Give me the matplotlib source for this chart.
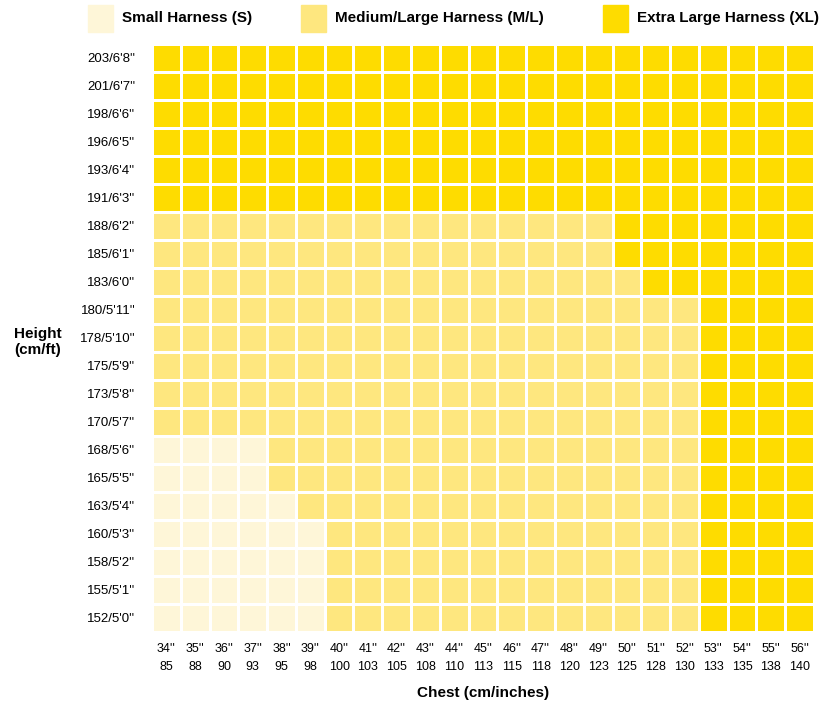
import numpy as np
import matplotlib
matplotlib.use("Agg")
import matplotlib.pyplot as plt
from matplotlib.colors import ListedColormap
from matplotlib.patches import Rectangle

plt.rcParams['font.family'] = ['Liberation Sans', 'DejaVu Sans']

chest_in = list(range(34, 57))
chest_cm = [85, 88, 90, 93, 95, 98, 100, 103, 105, 108, 110, 113, 115, 118,
            120, 123, 125, 128, 130, 133, 135, 138, 140]
height_cm = [152, 155, 158, 160, 163, 165, 168, 170, 173, 175, 178, 180, 183,
             185, 188, 191, 193, 196, 198, 201, 203]
height_ft = ["5'0", "5'1", "5'2", "5'3", "5'4", "5'5", "5'6", "5'7", "5'8",
             "5'9", "5'10", "5'11", "6'0", "6'1", "6'2", "6'3", "6'4", "6'5",
             "6'6", "6'7", "6'8"]

# one string per height row (bottom to top), one letter per chest column
size_rows = [
    "SSSSSSMMMMMMMMMMMMMXXXX",  # 152
    "SSSSSSMMMMMMMMMMMMMXXXX",  # 155
    "SSSSSSMMMMMMMMMMMMMXXXX",  # 158
    "SSSSSSMMMMMMMMMMMMMXXXX",  # 160
    "SSSSSMMMMMMMMMMMMMMXXXX",  # 163
    "SSSSMMMMMMMMMMMMMMMXXXX",  # 165
    "SSSSMMMMMMMMMMMMMMMXXXX",  # 168
    "MMMMMMMMMMMMMMMMMMMXXXX",  # 170
    "MMMMMMMMMMMMMMMMMMMXXXX",  # 173
    "MMMMMMMMMMMMMMMMMMMXXXX",  # 175
    "MMMMMMMMMMMMMMMMMMMXXXX",  # 178
    "MMMMMMMMMMMMMMMMMMMXXXX",  # 180
    "MMMMMMMMMMMMMMMMMXXXXXX",  # 183
    "MMMMMMMMMMMMMMMMXXXXXXX",  # 185
    "MMMMMMMMMMMMMMMMXXXXXXX",  # 188
    "XXXXXXXXXXXXXXXXXXXXXXX",  # 191
    "XXXXXXXXXXXXXXXXXXXXXXX",  # 193
    "XXXXXXXXXXXXXXXXXXXXXXX",  # 196
    "XXXXXXXXXXXXXXXXXXXXXXX",  # 198
    "XXXXXXXXXXXXXXXXXXXXXXX",  # 201
    "XXXXXXXXXXXXXXXXXXXXXXX",  # 203
]
size_names = ["Small Harness (S)", "Medium/Large Harness (M/L)", "Extra Large Harness (XL)"]
size_colors = ["#FEF6D8", "#FEE77F", "#FEDC00"]

code = {"S": 0, "M": 1, "X": 2}
grid = np.array([[code[c] for c in row] for row in size_rows])

fig = plt.figure(figsize=(8.25, 7.01), dpi=100)
ax = fig.add_axes([152 / 825, 1 - 632 / 701, 662 / 825, 588 / 701])

ax.pcolormesh(np.arange(len(chest_in) + 1), np.arange(len(height_cm) + 1), grid,
              cmap=ListedColormap(size_colors), vmin=-0.5, vmax=2.5,
              edgecolors="white", linewidth=0.9)
ax.set_xlim(0, len(chest_in))
ax.set_ylim(0, len(height_cm))

ax.set_xticks(np.arange(len(chest_in)) + 0.5)
ax.set_xticklabels([f"{i}''\n{c}" for i, c in zip(chest_in, chest_cm)],
                   fontsize=9, linespacing=1.6)
ax.set_yticks(np.arange(len(height_cm)) + 0.5)
ax.set_yticklabels([f"{h}/{f}''" for h, f in zip(height_cm, height_ft)], fontsize=9.5)
ax.tick_params(length=0, pad=8)
ax.tick_params(axis="y", pad=12)
for s in ax.spines.values():
    s.set_visible(False)

ax.set_xlabel("Chest (cm/inches)", fontsize=11, fontweight="bold", labelpad=10)
fig.text(38 / 825, 1 - 342 / 701, "Height\n(cm/ft)", fontsize=11, fontweight="bold",
         ha="center", va="center", linespacing=1.2)

# legend across the top
leg_x = [88, 301, 603]
for x, name, col in zip(leg_x, size_names, size_colors):
    fig.patches.append(Rectangle((x / 825, 1 - 32 / 701), 25 / 825, 27 / 701,
                                 transform=fig.transFigure, color=col))
    fig.text((x + 34) / 825, 1 - 18 / 701, name, fontsize=11, fontweight="bold",
             va="center", ha="left")

fig.savefig("out.png", dpi=100)
